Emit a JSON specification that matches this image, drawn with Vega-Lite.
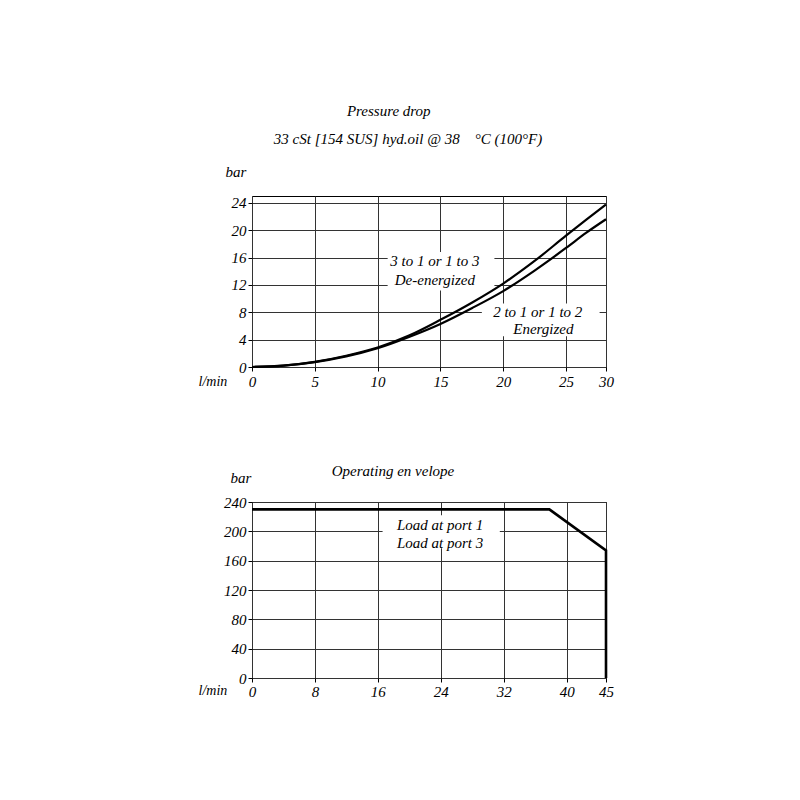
{
  "$schema": "https://vega.github.io/schema/vega-lite/v6.json",
  "background": "white",
  "padding": {"left": 197, "top": 103, "right": 5, "bottom": 5},
  "config": {
    "font": "Liberation Serif",
    "view": {"stroke": "black", "strokeWidth": 1},
    "axis": {
      "labelFont": "Liberation Serif", "labelFontStyle": "italic", "labelFontSize": 15, "labelColor": "black",
      "titleFont": "Liberation Serif", "titleFontStyle": "italic", "titleFontWeight": "normal", "titleFontSize": 15, "titleColor": "black",
      "gridColor": "#333", "gridWidth": 1, "gridOpacity": 1, "domain": false,
      "tickColor": "black", "tickSize": 4, "labelFlush": false, "labelOverlap": false, "tickCount": 20
    },
    "title": {"font": "Liberation Serif", "fontStyle": "italic", "fontWeight": "normal", "fontSize": 15, "color": "black"}
  },
  "title": {"text": "Pressure drop", "anchor": "middle", "dx": -17, "offset": 13},
  "spacing": 73,
  "vconcat": [
    {
      "width": 354, "height": 171,
      "title": {"text": "33 cSt [154 SUS] hyd.oil @ 38\u00a0\u00a0\u00a0\u00a0°C (100°F)", "anchor": "middle", "dx": -21, "offset": 17},
      "layer": [
        {
          "data": {"values": [
            {"x": 10.8, "x2": 19.3, "y": 11.2, "y2": 16.8},
            {"x": 18.3, "x2": 29.2, "y": 4.5, "y2": 9.3}
          ]},
          "mark": {"type": "rect", "fill": "white"},
          "encoding": {
            "x": {"field": "x", "type": "quantitative",
              "scale": {"domain": [0, 25, 30], "range": [0, 314, 354], "nice": false},
              "axis": {"values": [0, 5, 10, 15, 20, 25, 30], "tickCount": 20, "title": "l/min", "titleFontSize": 14, "titleAngle": 0, "titleAlign": "left", "titleBaseline": "middle", "titleX": -54, "titleY": 14, "labelPadding": 3}},
            "x2": {"field": "x2"},
            "y": {"field": "y", "type": "quantitative",
              "scale": {"domain": [0, 25], "nice": false, "zero": true},
              "axis": {"values": [0, 4, 8, 12, 16, 20, 24], "tickCount": 20, "title": "bar", "titleAngle": 0, "titleAlign": "left", "titleBaseline": "middle", "titleX": -27, "titleY": -25, "labelPadding": 2}},
            "y2": {"field": "y2"}
          }
        },
        {
          "data": {"values": [
            {"series": "3 to 1 or 1 to 3", "x": 0, "y": 0},
            {"series": "3 to 1 or 1 to 3", "x": 2.5, "y": 0.2},
            {"series": "3 to 1 or 1 to 3", "x": 5, "y": 0.75},
            {"series": "3 to 1 or 1 to 3", "x": 7.5, "y": 1.65},
            {"series": "3 to 1 or 1 to 3", "x": 10, "y": 2.85},
            {"series": "3 to 1 or 1 to 3", "x": 12.5, "y": 4.6},
            {"series": "3 to 1 or 1 to 3", "x": 15, "y": 6.9},
            {"series": "3 to 1 or 1 to 3", "x": 17.5, "y": 9.4},
            {"series": "3 to 1 or 1 to 3", "x": 20, "y": 12.2},
            {"series": "3 to 1 or 1 to 3", "x": 22.5, "y": 15.5},
            {"series": "3 to 1 or 1 to 3", "x": 25, "y": 19.2},
            {"series": "3 to 1 or 1 to 3", "x": 27.5, "y": 21.5},
            {"series": "3 to 1 or 1 to 3", "x": 30, "y": 23.75},
            {"series": "2 to 1 or 1 to 2", "x": 0, "y": 0},
            {"series": "2 to 1 or 1 to 2", "x": 2.5, "y": 0.2},
            {"series": "2 to 1 or 1 to 2", "x": 5, "y": 0.72},
            {"series": "2 to 1 or 1 to 2", "x": 7.5, "y": 1.55},
            {"series": "2 to 1 or 1 to 2", "x": 10, "y": 2.75},
            {"series": "2 to 1 or 1 to 2", "x": 12.5, "y": 4.4},
            {"series": "2 to 1 or 1 to 2", "x": 15, "y": 6.3},
            {"series": "2 to 1 or 1 to 2", "x": 17.5, "y": 8.6},
            {"series": "2 to 1 or 1 to 2", "x": 20, "y": 11.1},
            {"series": "2 to 1 or 1 to 2", "x": 22.5, "y": 14.1},
            {"series": "2 to 1 or 1 to 2", "x": 25, "y": 17.4},
            {"series": "2 to 1 or 1 to 2", "x": 27.5, "y": 19.6},
            {"series": "2 to 1 or 1 to 2", "x": 30, "y": 21.6}
          ]},
          "mark": {"type": "line", "color": "black", "strokeWidth": 2.2, "interpolate": "monotone"},
          "encoding": {
            "x": {"field": "x", "type": "quantitative"},
            "y": {"field": "y", "type": "quantitative"},
            "detail": {"field": "series", "type": "nominal"}
          }
        },
        {
          "data": {"values": [
            {"x": 14.56, "y": 15.5, "label": "3 to 1 or 1 to 3"},
            {"x": 14.56, "y": 12.7, "label": "De-energized"},
            {"x": 22.75, "y": 8.07, "label": "2 to 1 or 1 to 2"},
            {"x": 23.2, "y": 5.55, "label": "Energized"}
          ]},
          "mark": {"type": "text", "font": "Liberation Serif", "fontStyle": "italic", "fontSize": 15, "color": "black", "align": "center", "baseline": "middle"},
          "encoding": {
            "x": {"field": "x", "type": "quantitative"},
            "y": {"field": "y", "type": "quantitative"},
            "text": {"field": "label"}
          }
        }
      ]
    },
    {
      "width": 354, "height": 176,
      "title": {"text": "Operating en velope", "anchor": "middle", "dx": -36, "offset": -9},
      "layer": [
        {
          "data": {"values": [
            {"x": 16.6, "x2": 31.5, "y": 177, "y2": 222}
          ]},
          "mark": {"type": "rect", "fill": "white"},
          "encoding": {
            "x": {"field": "x", "type": "quantitative",
              "scale": {"domain": [0, 45], "nice": false},
              "axis": {"values": [0, 8, 16, 24, 32, 40, 45], "tickCount": 20, "title": "l/min", "titleFontSize": 14, "titleAngle": 0, "titleAlign": "left", "titleBaseline": "middle", "titleX": -54, "titleY": 12, "labelPadding": 2}},
            "x2": {"field": "x2"},
            "y": {"field": "y", "type": "quantitative",
              "scale": {"domain": [0, 240], "nice": false},
              "axis": {"values": [0, 40, 80, 120, 160, 200, 240], "tickCount": 20, "title": "bar", "titleAngle": 0, "titleAlign": "left", "titleBaseline": "middle", "titleX": -22, "titleY": -25, "labelPadding": 2}},
            "y2": {"field": "y2"}
          }
        },
        {
          "data": {"values": [
            {"i": 1, "x": 0, "y": 230},
            {"i": 2, "x": 37.8, "y": 230},
            {"i": 3, "x": 45, "y": 174},
            {"i": 4, "x": 45, "y": 0}
          ]},
          "mark": {"type": "line", "color": "black", "strokeWidth": 2.6},
          "encoding": {
            "x": {"field": "x", "type": "quantitative"},
            "y": {"field": "y", "type": "quantitative"},
            "order": {"field": "i", "type": "quantitative"}
          }
        },
        {
          "data": {"values": [
            {"x": 23.9, "y": 208, "label": "Load at port 1"},
            {"x": 23.9, "y": 184, "label": "Load at port 3"}
          ]},
          "mark": {"type": "text", "font": "Liberation Serif", "fontStyle": "italic", "fontSize": 15, "color": "black", "align": "center", "baseline": "middle"},
          "encoding": {
            "x": {"field": "x", "type": "quantitative"},
            "y": {"field": "y", "type": "quantitative"},
            "text": {"field": "label"}
          }
        }
      ]
    }
  ]
}
